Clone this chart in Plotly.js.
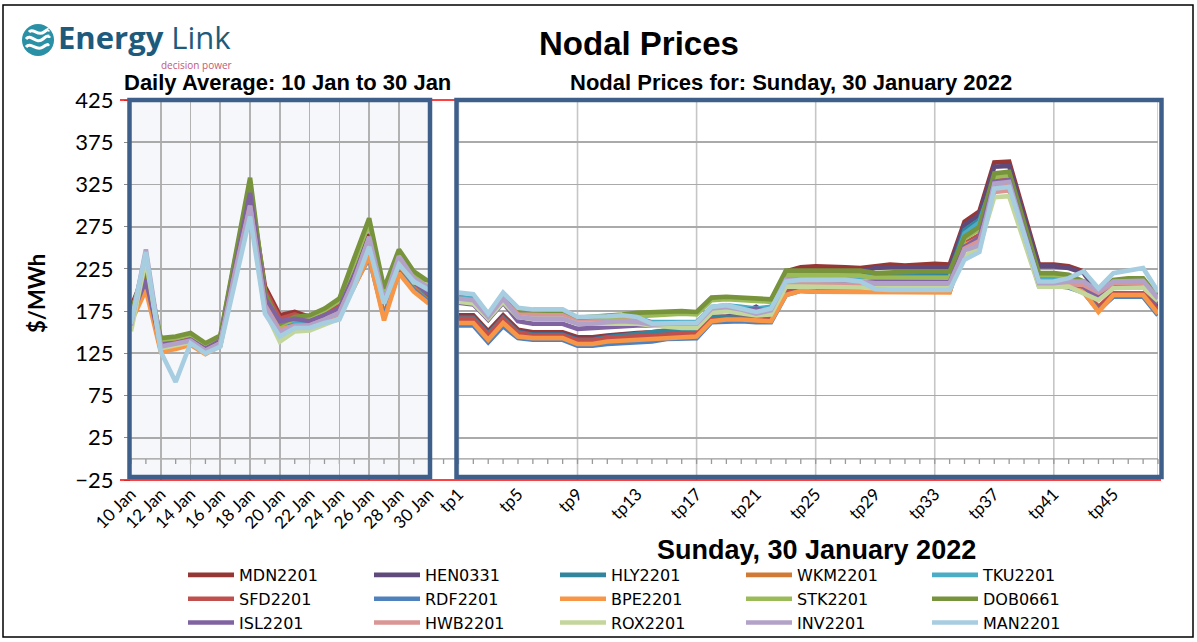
<!DOCTYPE html>
<html>
<head>
<meta charset="utf-8">
<script src="https://cdn.plot.ly/plotly-3.0.1.min.js"></script>
<style>html,body{margin:0;padding:0;background:#fff;}#chart{width:1197px;height:642px;}</style>
</head>
<body>
<div id="chart"></div>
<script>
// ---------- DATA ----------
const dates = ['10 Jan','11 Jan','12 Jan','13 Jan','14 Jan','15 Jan','16 Jan','17 Jan','18 Jan','19 Jan','20 Jan',
               '21 Jan','22 Jan','23 Jan','24 Jan','25 Jan','26 Jan','27 Jan','28 Jan','29 Jan','30 Jan'];
const periods = ['tp1','tp2','tp3','tp4','tp5','tp6','tp7','tp8','tp9','tp10','tp11','tp12','tp13','tp14','tp15','tp16',
                 'tp17','tp18','tp19','tp20','tp21','tp22','tp23','tp24','tp25','tp26','tp27','tp28','tp29','tp30','tp31','tp32',
                 'tp33','tp34','tp35','tp36','tp37','tp38','tp39','tp40','tp41','tp42','tp43','tp44','tp45','tp46','tp47','tp48'];
const yTickValues = [-25,25,75,125,175,225,275,325,375,425];

const seriesNames  = ['MDN2201','HEN0331','HLY2201','WKM2201','TKU2201','SFD2201','RDF2201','BPE2201','STK2201','DOB0661','ISL2201','HWB2201','ROX2201','INV2201','MAN2201'];
const seriesColors = ['#953735','#604a7b','#31859c','#d07a35','#4bacc6','#c0504d','#4f81bd','#f79646','#9bbb59','#77933c','#8064a2','#d99694','#c3d69b','#b3a2c7','#a7cde0'];

// Daily averages, 10 Jan to 30 Jan ($/MWh)
const MDN_daily = [180,222,140,142,145,134,143,236,318,204,170,174,168,174,183,224,266,190,238,214,200];
const HEN_daily = [175,214,138,140,143,132,142,234,317,197,165,170,166,172,181,222,262,188,236,212,198];
const HLY_daily = [170,225,133,136,140,129,139,228,308,188,160,163,161,168,176,215,256,184,231,207,193];
const WKM_daily = [165,205,130,133,137,127,136,224,302,183,156,159,158,165,173,208,244,170,224,202,187];
const TKU_daily = [168,238,133,136,140,129,138,226,305,186,158,161,160,167,175,213,254,184,232,208,196];
const SFD_daily = [176,218,137,139,142,131,141,232,312,200,166,171,165,171,180,220,258,185,233,209,196];
const RDF_daily = [163,206,130,132,136,126,135,222,300,182,155,158,157,164,172,206,238,168,221,200,186];
const BPE_daily = [162,200,127,130,135,124,134,220,298,180,154,157,156,163,171,204,240,164,220,198,184];
const STK_daily = [170,232,141,143,147,136,145,238,327,194,158,166,168,176,187,232,280,199,245,219,207];
const DOB_daily = [172,228,143,145,149,137,146,242,333,196,160,168,170,178,190,238,285,202,248,222,210];
const ISL_daily = [168,212,135,137,141,130,140,230,315,190,163,166,163,170,178,218,260,186,234,210,196];
const HWB_daily = [160,240,132,135,139,128,137,222,300,182,152,158,158,165,173,212,258,186,234,211,201];
const ROX_daily = [151,236,131,134,138,127,136,216,293,176,139,151,152,159,166,207,255,185,233,209,206];
const INV_daily = [158,248,133,136,140,128,137,220,299,180,150,157,158,165,173,212,263,188,240,214,203];
const MAN_daily = [160,245,127,91,137,125,133,212,287,172,145,155,155,161,165,204,251,184,230,210,200];

// Trading periods, Sunday 30 January 2022 ($/MWh)
const MDN_tp = [170,170,151,170,153,150,150,150,144,144,146,148,149,150,152,152,153,168,169,169,169,169,222,227,228,228,227,226,228,230,229,230,231,230,281,293,351,352,291,230,230,228,222,198,210,210,210,186];
const HEN_tp = [168,168,149,168,151,148,148,148,142,142,145,147,147,148,150,150,151,167,168,172,180,170,220,220,220,220,220,222,226,227,227,227,227,227,277,289,346,347,287,228,228,226,220,196,208,208,208,178];
const HLY_tp = [167,167,148,167,150,147,147,147,141,141,144,146,148,150,152,152,153,168,168,168,168,168,218,219,219,219,219,219,218,218,218,218,219,219,271,283,330,332,272,212,212,212,208,190,204,204,204,186];
const WKM_tp = [162,162,142,162,145,143,143,143,136,136,139,140,141,142,145,145,146,164,165,165,164,164,196,200,199,199,199,199,199,199,199,199,199,199,253,262,324,325,266,206,206,204,198,176,195,195,195,173];
const TKU_tp = [192,190,170,192,176,174,174,174,166,166,167,168,167,162,162,162,162,180,182,180,178,180,215,216,216,216,216,216,215,215,215,215,215,215,267,280,332,334,274,214,214,213,210,196,206,206,206,186];
const SFD_tp = [166,166,147,166,149,146,146,146,140,140,143,144,145,146,148,148,149,165,166,166,166,166,200,202,202,202,202,200,200,201,201,201,201,201,255,265,330,331,270,207,207,205,200,180,196,196,196,176];
const RDF_tp = [158,158,138,157,143,141,141,141,134,134,136,137,138,139,142,143,143,162,163,163,162,162,194,199,198,198,198,198,198,198,198,198,198,198,252,262,323,324,265,205,205,203,197,176,192,192,192,170];
const BPE_tp = [161,161,141,161,145,143,143,143,136,136,139,140,141,142,144,145,145,163,165,165,164,163,194,199,198,198,198,198,197,197,197,197,197,197,253,261,322,323,265,207,207,205,198,174,194,194,194,172];
const STK_tp = [188,185,165,188,174,172,172,172,165,166,167,168,170,171,172,172,171,188,189,188,187,186,218,218,218,218,218,217,214,214,214,214,214,214,261,272,334,336,276,218,218,216,208,193,210,211,211,190];
const DOB_tp = [190,187,167,190,176,174,174,174,167,168,169,171,173,174,175,175,174,191,192,191,190,189,223,223,223,223,223,223,220,221,222,222,222,222,263,275,338,340,280,220,220,218,210,195,212,214,214,192];
const ISL_tp = [185,183,165,185,163,160,160,160,154,155,157,158,158,158,158,158,158,176,178,176,178,174,210,210,210,210,210,209,209,209,209,209,209,209,251,262,328,330,270,210,210,208,204,190,205,205,205,184];
const HWB_tp = [188,186,168,188,171,170,170,170,162,162,163,164,164,161,161,161,160,176,178,176,172,174,207,207,207,207,207,206,204,204,204,204,204,204,249,258,316,318,262,206,206,207,206,197,208,208,208,188];
const ROX_tp = [186,184,166,186,168,166,166,166,160,160,161,161,160,158,156,155,155,173,175,173,170,171,204,204,204,204,204,203,202,202,202,202,202,202,240,251,310,311,258,204,204,204,196,188,202,203,203,187];
const INV_tp = [190,188,168,190,168,166,166,166,160,160,162,163,162,159,160,160,160,178,180,177,172,176,212,212,212,212,212,210,208,208,208,208,208,208,247,253,326,328,268,208,208,210,210,199,210,211,211,190];
const MAN_tp = [197,195,172,197,179,177,177,177,168,168,169,170,168,160,161,161,161,180,182,178,174,178,210,212,212,212,212,210,201,200,200,200,200,200,236,245,320,322,266,210,210,214,222,202,220,223,226,198];

const dailySeries = [MDN_daily,HEN_daily,HLY_daily,WKM_daily,TKU_daily,SFD_daily,RDF_daily,BPE_daily,STK_daily,DOB_daily,ISL_daily,HWB_daily,ROX_daily,INV_daily,MAN_daily];
const tpSeries    = [MDN_tp,HEN_tp,HLY_tp,WKM_tp,TKU_tp,SFD_tp,RDF_tp,BPE_tp,STK_tp,DOB_tp,ISL_tp,HWB_tp,ROX_tp,INV_tp,MAN_tp];

// ---------- GEOMETRY HELPERS ----------
const W = 1197, H = 642, ML = 80, MR = 30, MT = 100, MB = 162;
const PW = W - ML - MR, PH = H - MT - MB;
const px = v => (v - ML) / PW;         // pixel x -> paper
const py = v => (H - MB - v) / PH;     // pixel y -> paper
const yMin = yTickValues[0], yMax = yTickValues[yTickValues.length - 1];
const leftPx = 131, rightPx = 1158;
const nCat = dates.length + 1 + periods.length;     // dates, one blank slot, periods
const step = (rightPx - leftPx) / (nCat - 1);
const xL0 = leftPx, xL1 = leftPx + (dates.length - 1) * step;
const xR0 = leftPx + (dates.length + 1) * step, xR1 = rightPx;

// ---------- TRACES ----------
const traces = [];
seriesNames.forEach((name, i) => {
  traces.push({
    type: 'scatter', mode: 'lines', name: name, legendgroup: name, showlegend: false,
    x: dates, y: dailySeries[i], xaxis: 'x', yaxis: 'y',
    line: {color: seriesColors[i], width: 4.6}, hoverinfo: 'x+y+name'
  });
});
seriesNames.forEach((name, i) => {
  traces.push({
    type: 'scatter', mode: 'lines', name: name, legendgroup: name, showlegend: true,
    x: periods, y: tpSeries[i], xaxis: 'x2', yaxis: 'y',
    line: {color: seriesColors[i], width: 4.6}, hoverinfo: 'x+y+name'
  });
});

const tickFont = {family: 'Lato, "Open Sans", sans-serif', size: 17, color: '#000'};
const boxColor = '#3f5f8b';

// vertical gridlines of the trading-period panel: every 8th period and the last one
const tpGrid = periods.filter((p, i) => i % 8 === 0 || i === periods.length - 1).map(p => ({
  type: 'line', xref: 'x2', yref: 'paper', x0: p, x1: p, y0: 0, y1: 1,
  line: {color: '#c6c6c6', width: 1.6}, layer: 'below'
}));

// category tick row on the zero line, spanning both panels
const zeroY = (0 - yMin) / (yMax - yMin);
const tickLen = 5 / PH;
let tickPath = `M${px(xL0)},${zeroY} L${px(xR1)},${zeroY}`;
for (let k = 0; k < nCat; k++) {
  const xk = px(xL0 + k * step);
  tickPath += ` M${xk},${zeroY} L${xk},${zeroY - tickLen}`;
}

const layout = {
  width: W, height: H,
  margin: {l: ML, r: MR, t: MT, b: MB, autoexpand: false},
  paper_bgcolor: '#ffffff',
  plot_bgcolor: 'rgba(0,0,0,0)',
  showlegend: true,
  xaxis: {
    domain: [px(xL0), px(xL1)], anchor: 'y', type: 'category',
    range: [0, dates.length - 1], tickmode: 'linear', tick0: 0, dtick: 2,
    tickangle: -45, ticks: '', showline: false, zeroline: false,
    showgrid: true, gridcolor: '#b2b2b2', gridwidth: 1.7, tickfont: tickFont
  },
  xaxis2: {
    domain: [px(xR0), px(xR1)], anchor: 'y', type: 'category',
    range: [0, periods.length - 1], tickmode: 'linear', tick0: 0, dtick: 4,
    tickangle: -45, ticks: '', showline: false, zeroline: false,
    showgrid: false, tickfont: tickFont
  },
  yaxis: {
    domain: [0, 1], anchor: 'x', range: [yMin, yMax],
    tickmode: 'array', tickvals: yTickValues,
    ticks: 'outside', ticklen: 6, tickcolor: '#8a8a8a',
    ticklabelstandoff: 6,
    showline: false, zeroline: false,
    showgrid: true, gridcolor: '#aaaaaa', gridwidth: 1.7,
    tickfont: {family: 'Lato, "Open Sans", sans-serif', size: 22, color: '#000'}
  },
  legend: {
    orientation: 'h', x: px(183), y: py(558), xanchor: 'left', yanchor: 'top',
    entrywidth: 125, entrywidthmode: 'pixels', itemwidth: 46,
    font: {family: '"DejaVu Sans", sans-serif', size: 16, color: '#000'},
    bgcolor: 'rgba(0,0,0,0)', traceorder: 'normal', tracegroupgap: 0
  },
  shapes: [
    // shaded daily-average panel
    {type: 'rect', xref: 'paper', yref: 'paper', x0: px(xL0), x1: px(xL1), y0: py(476), y1: 1,
     fillcolor: '#f5f7fb', line: {width: 0}, layer: 'below'},
    ...tpGrid,
    {type: 'path', xref: 'paper', yref: 'paper', path: tickPath,
     line: {color: '#9a9a9a', width: 1.3}, layer: 'below'},
    // red plot-area edges
    {type: 'line', xref: 'paper', yref: 'paper', x0: px(120), x1: px(1161), y0: 0, y1: 0,
     line: {color: '#ff0000', width: 1.6}, layer: 'above'},
    {type: 'line', xref: 'paper', yref: 'paper', x0: px(120), x1: px(1161), y0: 1, y1: 1,
     line: {color: '#ff0000', width: 1.6}, layer: 'above'},
    // panel frames
    {type: 'rect', xref: 'paper', yref: 'paper', x0: px(129.5), x1: px(430), y0: py(477), y1: py(100),
     line: {color: boxColor, width: 4.5}, layer: 'above'},
    {type: 'rect', xref: 'paper', yref: 'paper', x0: px(456.5), x1: px(1161.5), y0: py(477), y1: py(100),
     line: {color: boxColor, width: 4.5}, layer: 'above'},
    // outer frame
    {type: 'rect', xref: 'paper', yref: 'paper', x0: px(3), x1: px(1193), y0: py(637), y1: py(5),
     line: {color: '#000', width: 1.5}, layer: 'above'},
    // logo icon
    {type: 'circle', xref: 'paper', yref: 'paper', xsizemode: 'pixel', ysizemode: 'pixel',
     xanchor: px(38), yanchor: py(40), x0: -16, x1: 16, y0: -16, y1: 16,
     fillcolor: '#2a90a6', line: {width: 0}, layer: 'above'},
    {type: 'path', xref: 'paper', yref: 'paper', xsizemode: 'pixel', ysizemode: 'pixel',
     xanchor: px(38), yanchor: py(40), path: 'M-12,-7 C-7,-1 -2,-12 5,-7 S9,-6 11,-4',
     line: {color: '#ffffff', width: 3}, layer: 'above'},
    {type: 'path', xref: 'paper', yref: 'paper', xsizemode: 'pixel', ysizemode: 'pixel',
     xanchor: px(38), yanchor: py(40), path: 'M-12,1 C-7,7 -2,-5 5,1 S10,2 12,4',
     line: {color: '#ffffff', width: 3}, layer: 'above'},
    {type: 'path', xref: 'paper', yref: 'paper', xsizemode: 'pixel', ysizemode: 'pixel',
     xanchor: px(38), yanchor: py(40), path: 'M-9,8 C-5,13 0,3 6,8 S10,9 11,10',
     line: {color: '#ffffff', width: 3}, layer: 'above'}
  ],
  annotations: [
    {text: '<b>Nodal Prices</b>', xref: 'paper', yref: 'paper', x: px(639), y: py(44),
     xanchor: 'center', yanchor: 'middle', showarrow: false,
     font: {family: '"Liberation Sans", Arial, sans-serif', size: 33, color: '#000'}},
    {text: '<b>Daily Average: 10 Jan to 30 Jan</b>', xref: 'paper', yref: 'paper', x: px(287), y: py(82),
     xanchor: 'center', yanchor: 'middle', showarrow: false,
     font: {family: '"Liberation Sans", Arial, sans-serif', size: 22, color: '#000'}},
    {text: '<b>Nodal Prices for: Sunday, 30 January 2022</b>', xref: 'paper', yref: 'paper', x: px(791), y: py(82),
     xanchor: 'center', yanchor: 'middle', showarrow: false,
     font: {family: '"Liberation Sans", Arial, sans-serif', size: 22, color: '#000'}},
    {text: '<b>Sunday, 30 January 2022</b>', xref: 'paper', yref: 'paper', x: px(816), y: py(550),
     xanchor: 'center', yanchor: 'middle', showarrow: false,
     font: {family: '"Liberation Sans", Arial, sans-serif', size: 27, color: '#000'}},
    {text: '<b>$/MWh</b>', xref: 'paper', yref: 'paper', x: px(36), y: py(294), textangle: -90,
     xanchor: 'center', yanchor: 'middle', showarrow: false,
     font: {family: 'Lato, "Open Sans", sans-serif', size: 22, color: '#000'}},
    {text: '<b>Energy</b> Link', xref: 'paper', yref: 'paper', x: px(56), y: py(37),
     xanchor: 'left', yanchor: 'middle', showarrow: false,
     font: {family: '"Open Sans", sans-serif', size: 31, color: '#1d5a7c'}},
    {text: 'decision power', xref: 'paper', yref: 'paper', x: px(234), y: py(65),
     xanchor: 'right', yanchor: 'middle', showarrow: false,
     font: {family: '"Open Sans", sans-serif', size: 10, color: '#c4577a'}}
  ]
};

Plotly.newPlot('chart', traces, layout, {displayModeBar: false, staticPlot: true});
</script>
</body>
</html>
